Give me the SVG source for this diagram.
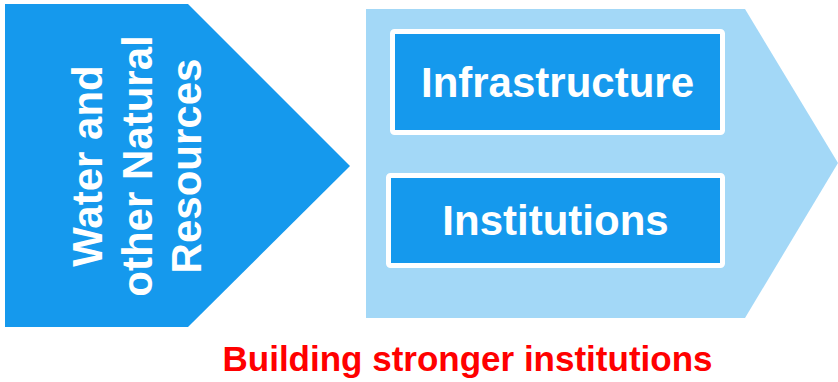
<svg xmlns="http://www.w3.org/2000/svg" width="838" height="382" viewBox="0 0 838 382">
<style>
.t{font-family:"Liberation Sans",Arial,sans-serif;font-weight:bold;fill:#fff;font-size:42px;text-anchor:middle}
.box{fill:#1599ED;stroke:#fff;stroke-width:5}
</style>
<rect width="838" height="382" fill="#fff"/>
<g id="resources">
<polygon points="5,4 188,4 350,166 188,327 5,327" fill="#1599ED"/>
<text class="t" transform="translate(102,166) rotate(-90)">Water and</text>
<text class="t" transform="translate(152,166) rotate(-90)">other Natural</text>
<text class="t" transform="translate(201,166) rotate(-90)">Resources</text>
</g>
<g id="outcome">
<polygon points="366,9 745,9 838,163 745,318 366,318" fill="#A3D8F7"/>
</g>
<g id="infrastructure">
<rect class="box" x="392.5" y="31.5" width="330" height="101" rx="2"/>
<text class="t" x="557.5" y="97">Infrastructure</text>
</g>
<g id="institutions">
<rect class="box" x="388.5" y="175.5" width="334" height="90" rx="2"/>
<text class="t" x="555.5" y="235">Institutions</text>
</g>
<g id="connectors"></g>
<text x="467.5" y="371" font-family="'Liberation Sans',Arial,sans-serif" font-weight="bold" font-size="35" fill="#FF0000" text-anchor="middle">Building stronger institutions</text>
</svg>
